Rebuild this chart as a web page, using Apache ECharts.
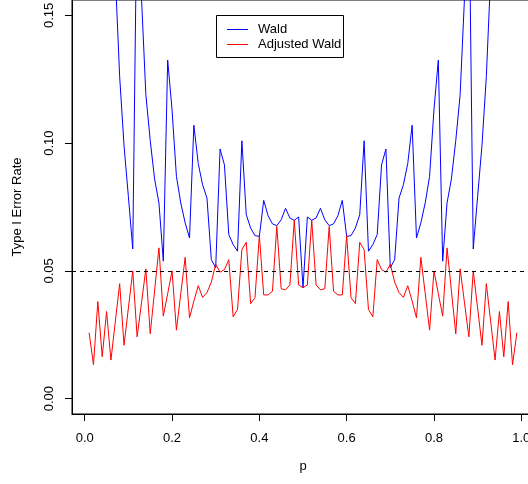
<!DOCTYPE html>
<html>
<head>
<meta charset="utf-8">
<script src="https://cdn.jsdelivr.net/npm/echarts@6/dist/echarts.min.js"></script>
<style>
  html, body { margin: 0; padding: 0; background: #fff; }
  #chart { width: 528px; height: 484px; }
</style>
</head>
<body>
<div id="chart"></div>
<script>
// true proportion p
var pValues = [
  0.01, 0.02, 0.03, 0.04, 0.05, 0.06, 0.07, 0.08, 0.09, 0.10,
  0.11, 0.12, 0.13, 0.14, 0.15, 0.16, 0.17, 0.18, 0.19, 0.20,
  0.21, 0.22, 0.23, 0.24, 0.25, 0.26, 0.27, 0.28, 0.29, 0.30,
  0.31, 0.32, 0.33, 0.34, 0.35, 0.36, 0.37, 0.38, 0.39, 0.40,
  0.41, 0.42, 0.43, 0.44, 0.45, 0.46, 0.47, 0.48, 0.49, 0.50,
  0.51, 0.52, 0.53, 0.54, 0.55, 0.56, 0.57, 0.58, 0.59, 0.60,
  0.61, 0.62, 0.63, 0.64, 0.65, 0.66, 0.67, 0.68, 0.69, 0.70,
  0.71, 0.72, 0.73, 0.74, 0.75, 0.76, 0.77, 0.78, 0.79, 0.80,
  0.81, 0.82, 0.83, 0.84, 0.85, 0.86, 0.87, 0.88, 0.89, 0.90,
  0.91, 0.92, 0.93, 0.94, 0.95, 0.96, 0.97, 0.98, 0.99
];

// type I error rate of the Wald interval
var waldRate = [
  0.60, 0.40, 0.30, 0.26, 0.22, 0.19, 0.166, 0.126, 0.099, 0.079,
  0.0586, 0.200, 0.157, 0.119, 0.101, 0.086, 0.0766, 0.0538, 0.1325, 0.113,
  0.087, 0.0766, 0.0688, 0.0629, 0.107, 0.092, 0.0837, 0.0785, 0.0544, 0.0512,
  0.0977, 0.0915, 0.0642, 0.0603, 0.0577, 0.1009, 0.072, 0.0668, 0.0638, 0.0635,
  0.0776, 0.0716, 0.0684, 0.0677, 0.070, 0.0745, 0.0707, 0.0698, 0.0711, 0.0434,
  0.0711, 0.0698, 0.0707, 0.0745, 0.070, 0.0677, 0.0684, 0.0716, 0.0776, 0.0635,
  0.0638, 0.0668, 0.072, 0.1009, 0.0577, 0.0603, 0.0642, 0.0915, 0.0977, 0.0512,
  0.0544, 0.0785, 0.0837, 0.092, 0.107, 0.0629, 0.0688, 0.0766, 0.087, 0.113,
  0.1325, 0.0538, 0.0766, 0.086, 0.101, 0.119, 0.157, 0.200, 0.0586, 0.079,
  0.099, 0.126, 0.166, 0.19, 0.22, 0.26, 0.30, 0.40, 0.60
];

// type I error rate of the adjusted Wald interval
var adjustedRate = [
  0.0258, 0.0133, 0.0380, 0.0164, 0.0341, 0.0151, 0.0301, 0.0450, 0.0209, 0.0355,
  0.0500, 0.0242, 0.0375, 0.0508, 0.0254, 0.0422, 0.0590, 0.0323, 0.0411, 0.0500,
  0.0268, 0.0411, 0.0553, 0.0316, 0.0382, 0.0442, 0.0396, 0.0415, 0.0456, 0.0526,
  0.0495, 0.0505, 0.0544, 0.0320, 0.0349, 0.0583, 0.0612, 0.0372, 0.0395, 0.0638,
  0.0406, 0.0406, 0.0420, 0.0674, 0.0430, 0.0426, 0.0445, 0.0698, 0.0445, 0.0434,
  0.0445, 0.0698, 0.0445, 0.0426, 0.0430, 0.0674, 0.0420, 0.0406, 0.0406, 0.0638,
  0.0395, 0.0372, 0.0612, 0.0583, 0.0349, 0.0320, 0.0544, 0.0505, 0.0495, 0.0526,
  0.0456, 0.0415, 0.0396, 0.0442, 0.0382, 0.0316, 0.0553, 0.0411, 0.0268, 0.0500,
  0.0411, 0.0323, 0.0590, 0.0422, 0.0254, 0.0508, 0.0375, 0.0242, 0.0500, 0.0355,
  0.0209, 0.0450, 0.0301, 0.0151, 0.0341, 0.0164, 0.0380, 0.0133, 0.0258
];

var seriesNames = ['Wald', 'Adjusted Wald'];
var seriesColors = ['#0000ff', '#ff0000'];
var xTicks = [0, 0.2, 0.4, 0.6, 0.8, 1.0];
var yTicks = [0, 0.05, 0.10, 0.15];
var alpha = 0.05;

function pairs(ys) {
  var out = [];
  for (var i = 0; i < pValues.length; i++) {
    out.push([pValues[i], ys[i]]);
  }
  return out;
}

var font = 'Liberation Sans, Arial, Helvetica, sans-serif';

// legend drawn by hand, like R's legend(): box, short line, label
var legendItems = [
  { type: 'rect', shape: { x: 216.5, y: 15.5, width: 127, height: 42 },
    style: { fill: '#fff', stroke: '#000', lineWidth: 1 } }
];
seriesNames.forEach(function (name, i) {
  var y = 29.5 + i * 15;
  legendItems.push({ type: 'line', shape: { x1: 227, y1: y, x2: 248, y2: y },
    style: { stroke: seriesColors[i], lineWidth: 1 } });
  legendItems.push({ type: 'text', x: 258, y: y,
    style: { text: name, fill: '#000', font: '13px ' + font, textVerticalAlign: 'middle' } });
});

var chart = echarts.init(document.getElementById('chart'));

var option = {
  animation: false,
  backgroundColor: '#fff',
  textStyle: { fontFamily: font },
  grid: {
    left: 72,
    top: 0,
    width: 462,
    height: 414,
    outerBoundsMode: 'none',
    containLabel: false,
    show: true,
    borderColor: '#000',
    borderWidth: 1
  },
  graphic: [{ type: 'group', z: 100, children: legendItems }],
  xAxis: {
    type: 'value',
    min: -0.0292,
    max: 1.0292,
    name: 'p',
    nameLocation: 'middle',
    nameGap: 46,
    nameTextStyle: { fontSize: 13, color: '#000', fontFamily: font },
    splitLine: { show: false },
    axisLine: { show: true, onZero: false, lineStyle: { color: '#000', width: 1 } },
    axisTick: { show: true, length: 7, customValues: xTicks, lineStyle: { color: '#000' } },
    axisLabel: {
      customValues: xTicks,
      margin: 18,
      fontSize: 13,
      color: '#000',
      fontFamily: font,
      formatter: function (v) { return v.toFixed(1); }
    }
  },
  yAxis: {
    type: 'value',
    min: -0.006,
    max: 0.156,
    name: 'Type I Error Rate',
    nameLocation: 'middle',
    nameRotate: 90,
    nameGap: 48,
    nameTextStyle: { fontSize: 13, color: '#000', fontFamily: font },
    splitLine: { show: false },
    axisLine: { show: true, onZero: false, lineStyle: { color: '#000', width: 1 } },
    axisTick: { show: true, length: 7, customValues: yTicks, lineStyle: { color: '#000' } },
    axisLabel: {
      customValues: yTicks,
      rotate: 90,
      margin: 16,
      fontSize: 13,
      color: '#000',
      fontFamily: font,
      formatter: function (v) { return v.toFixed(2); }
    }
  },
  series: [
    {
      name: seriesNames[0],
      type: 'line',
      symbol: 'none',
      clip: true,
      lineStyle: { color: seriesColors[0], width: 1 },
      data: pairs(waldRate)
    },
    {
      name: seriesNames[1],
      type: 'line',
      symbol: 'none',
      clip: true,
      lineStyle: { color: seriesColors[1], width: 1 },
      data: pairs(adjustedRate),
      // nominal level
      markLine: {
        silent: true,
        symbol: ['none', 'none'],
        label: { show: false },
        lineStyle: { color: '#000', width: 1, type: [4, 4] },
        data: [{ yAxis: alpha }]
      }
    }
  ]
};

chart.setOption(option);
</script>
</body>
</html>
